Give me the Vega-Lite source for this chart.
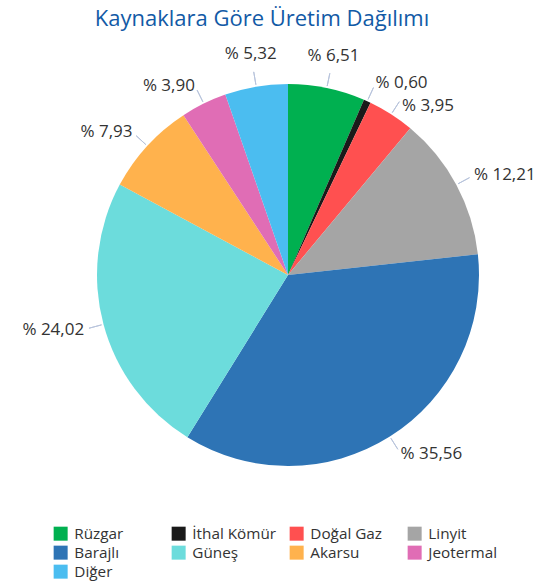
{
  "$schema": "https://vega.github.io/schema/vega-lite/v6.json",
  "autosize": {"type": "none"},
  "width": 494,
  "height": 470,
  "padding": {"left": 41, "top": 40, "right": 0, "bottom": 71},
  "background": "white",
  "title": {
    "text": "Kaynaklara Göre Üretim Dağılımı",
    "font": "Open Sans",
    "fontSize": 22,
    "fontWeight": "normal",
    "color": "#125aa6",
    "anchor": "middle",
    "baseline": "alphabetic",
    "offset": 14,
    "dx": -26,
    "dy": 22
  },
  "data": {
    "values": [
      {"idx": 1, "name": "Rüzgar", "value": 6.51},
      {"idx": 2, "name": "İthal Kömür", "value": 0.60},
      {"idx": 3, "name": "Doğal Gaz", "value": 3.95},
      {"idx": 4, "name": "Linyit", "value": 12.21},
      {"idx": 5, "name": "Barajlı", "value": 35.56},
      {"idx": 6, "name": "Günes\u0327", "value": 24.02},
      {"idx": 7, "name": "Akarsu", "value": 7.93},
      {"idx": 8, "name": "Jeotermal", "value": 3.90},
      {"idx": 9, "name": "Diğer", "value": 5.32}
    ]
  },
  "encoding": {
    "theta": {"field": "value", "type": "quantitative", "stack": true},
    "order": {"field": "idx", "type": "quantitative"}
  },
  "layer": [
    {
      "mark": {"type": "arc", "radius": 191, "stroke": null, "strokeWidth": 0},
      "encoding": {
        "color": {
          "field": "name",
          "type": "nominal",
          "sort": null,
          "scale": {
            "domain": ["Rüzgar", "İthal Kömür", "Doğal Gaz", "Linyit", "Barajlı", "Günes\u0327", "Akarsu", "Jeotermal", "Diğer"],
            "range": ["#00b050", "#1a1a1a", "#ff5050", "#a5a5a5", "#2e74b5", "#6cdcdc", "#ffb24d", "#e06db5", "#4bbdf0"]
          },
          "legend": {
            "orient": "none",
            "direction": "horizontal",
            "legendX": 12,
            "legendY": 486,
            "columns": 4,
            "gridAlign": "all",
            "title": null,
            "padding": 0,
            "symbolType": "square",
            "symbolSize": 196,
            "symbolStrokeWidth": 0,
            "symbolOpacity": 1,
            "labelFont": "Open Sans",
            "labelFontSize": 15.3,
            "labelColor": "#333333",
            "labelOffset": 6,
            "columnPadding": 12,
            "rowPadding": 3,
            "labelLimit": 200
          }
        }
      }
    },
    {
      "mark": {"type": "arc", "radius": 206, "radius2": 193, "padAngle": 3.1, "fill": null, "stroke": "#b8c4dc", "strokeWidth": 1}
    },
    {
      "transform": [
        {"calculate": "'% ' + replace(format(datum.value, '.2f'), '.', ',')", "as": "label"}
      ],
      "mark": {
        "type": "text",
        "radius": {"expr": "abs(sin(PI*(datum.value_start+datum.value_end)/100)) < 0.25 ? 224 : 211"},
        "font": "Open Sans",
        "fontSize": 17,
        "color": "#333333",
        "baseline": "middle",
        "align": {"expr": "sin(PI*(datum.value_start+datum.value_end)/100) > 0.25 ? 'left' : (sin(PI*(datum.value_start+datum.value_end)/100) < -0.25 ? 'right' : 'center')"},
        "dy": {"expr": "(datum.value_end - datum.value_start) < 5 && sin(PI*(datum.value_start+datum.value_end)/100) > 0.45 ? 9 : 0"}
      },
      "encoding": {
        "text": {"field": "label", "type": "nominal"}
      }
    }
  ],
  "config": {
    "view": {"stroke": null}
  }
}
